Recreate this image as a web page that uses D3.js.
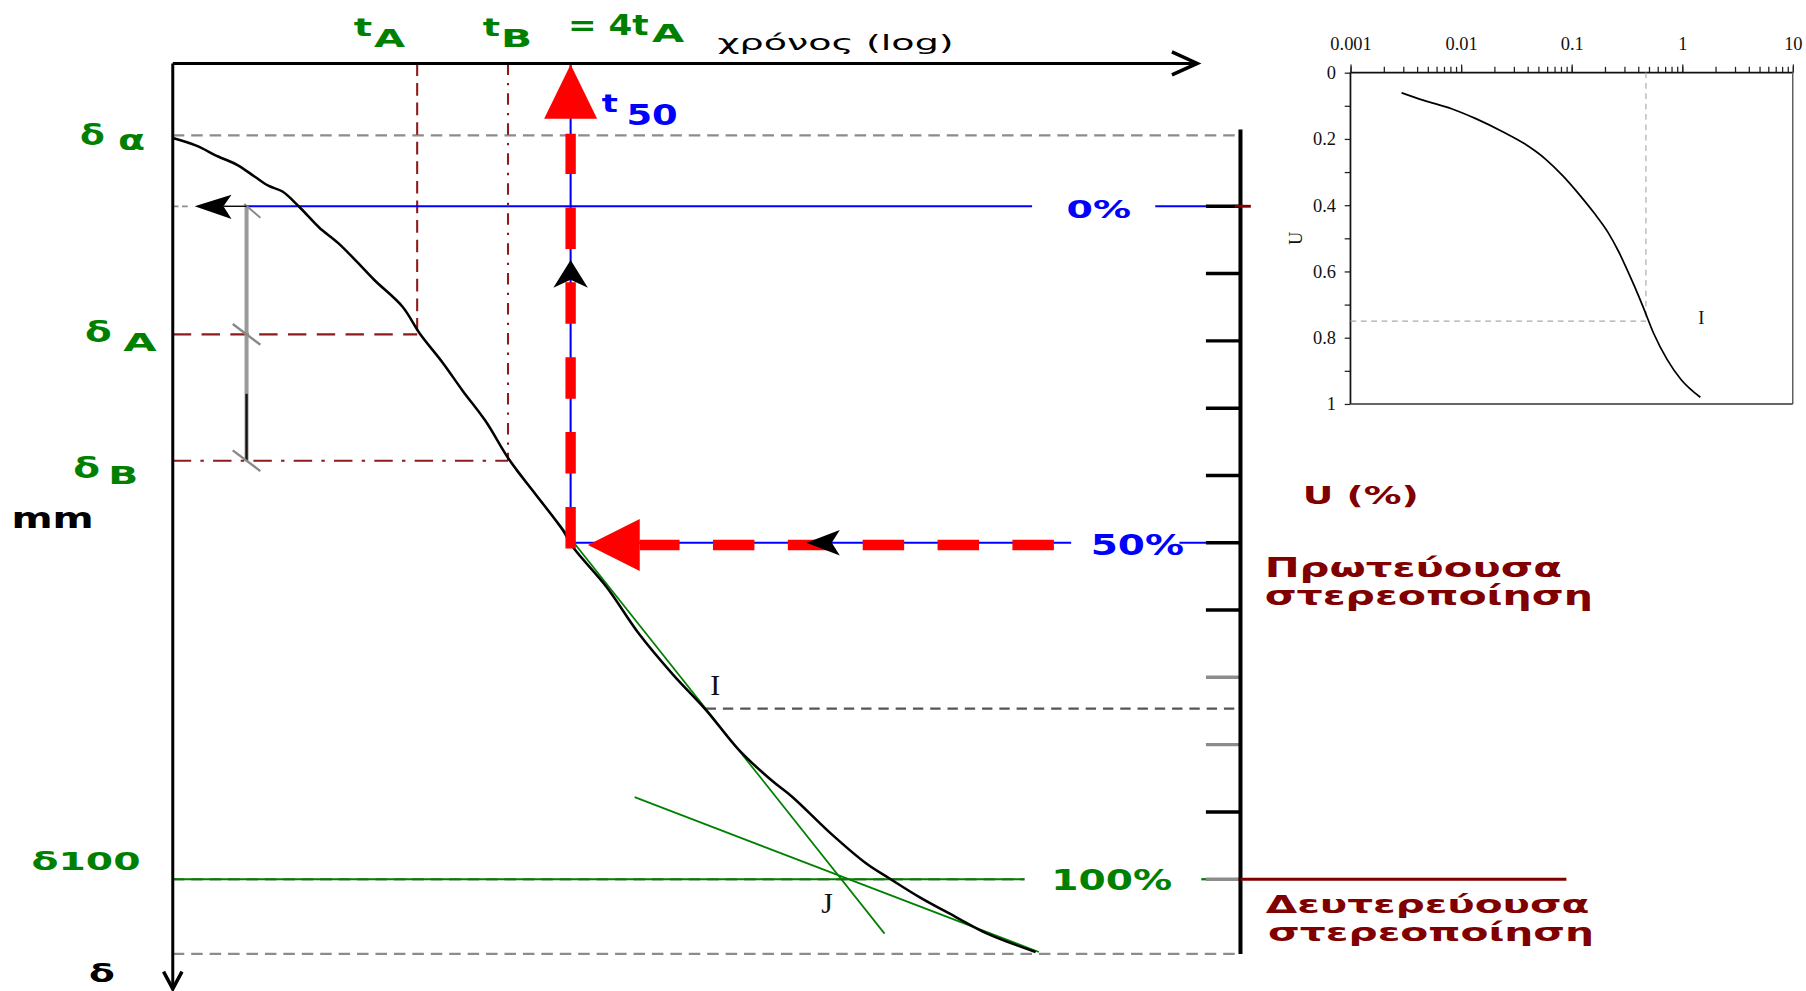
<!DOCTYPE html>
<html lang="el">
<head>
<meta charset="utf-8">
<title>Μέθοδος Casagrande – χρόνος (log)</title>
<script src="https://cdn.jsdelivr.net/npm/d3@7/dist/d3.min.js"></script>
<style>
html, body { margin: 0; padding: 0; background: #fff; overflow: hidden; }
svg { display: block; }
</style>
</head>
<body>
<script>
// ---------- settlement record of one load step (time in min, settlement in mm) ----------
const timeMin = [0.006, 0.0085, 0.012, 0.016, 0.021, 0.026, 0.032, 0.041, 0.056, 0.075,
                 0.098, 0.13, 0.2, 0.26, 0.37, 0.5, 0.71, 1.02, 1.5, 2.3,
                 2.7, 4.5, 7.4, 12.4, 20.4, 34, 56, 77, 137, 237,
                 336, 540, 930, 1500, 3140];
const settlementMm = [0.81, 0.89, 1.01, 1.10, 1.23, 1.33, 1.39, 1.55, 1.78, 1.95,
                      2.14, 2.35, 2.64, 2.93, 3.25, 3.55, 3.88, 4.30, 4.66, 5.06,
                      5.25, 5.68, 6.19, 6.63, 7.01, 7.45, 7.78, 7.96, 8.35, 8.68,
                      8.84, 9.05, 9.26, 9.44, 9.64];

// Casagrande construction: tA, tB = 4 tA, t50
const keyTimes = [0.25, 1, 2.6];
// δα, δA, δB, δ0, δ50, δ100, final settlement
const keySettlements = [0.78, 2.94, 4.31, 1.55, 5.2, 8.85, 9.66];
// inflection point I (time, settlement)
const pointI = [20.4, 7.0];
// tangents through I and along the secondary branch (time pairs, settlement pairs)
const steepTangentT = [1.13, 313];
const steepTangentD = [4.41, 9.44];
const flatTangentT = [6.91, 3300];
const flatTangentD = [7.96, 9.64];
// degree of consolidation scale on the right
const uPercentTicks = [0, 10, 20, 30, 40, 50, 60, 70, 80, 90, 100];
const uGreyTicks = [70, 80, 100];
// positions (in time) of the construction helpers: δA–δB carry-up line, arrow on the 50 % line
const helperTimes = [0.0185, 95];

// ---------- inset: theoretical U – Tv curve ----------
const tvValues = [0.0029, 0.0046, 0.0082, 0.0136, 0.0243, 0.0376, 0.058, 0.083, 0.12, 0.16,
                  0.214, 0.266, 0.307, 0.369, 0.443, 0.55, 0.734, 0.98, 1.46];
const uValues  = [0.061, 0.084, 0.109, 0.139, 0.180, 0.215, 0.261, 0.311, 0.372, 0.424,
                  0.483, 0.540, 0.584, 0.644, 0.707, 0.786, 0.867, 0.927, 0.980];
const tvTickValues = [0.001, 0.01, 0.1, 1, 10];
const tvTickLabels = ["0.001", "0.01", "0.1", "1", "10"];
const uTickValues = [0, 0.2, 0.4, 0.6, 0.8, 1];
const uTickLabels = ["0", "0.2", "0.4", "0.6", "0.8", "1"];
const uMinorTicks = [0.1, 0.3, 0.5, 0.7, 0.9];
const insetGuide = [0.47, 0.75];   // Tv, U at I

// ---------- colours ----------
const GREEN = "#008000", BLUE = "#0000ff", DARKRED = "#800000", RED = "#ff0000";
const GREY = "#8c8c8c", CONSTR = "#8e1b1b";

const [tA, tB, t50] = keyTimes;
const [dAlpha, dA, dB, d0, d50, d100, dEnd] = keySettlements;

const svg = d3.select("body").append("svg")
  .attr("width", 1806).attr("height", 991)
  .attr("viewBox", "0 0 1568 860")
  .attr("preserveAspectRatio", "none");

// main scales: logarithmic time across, settlement downwards
const x = d3.scaleLog().domain([0.006, 37000]).range([150, 1039.5]);
const y = d3.scaleLinear().domain([0, 10.04]).range([55, 858.2]);
const u = d3.scaleLinear().domain([0, 100]).range([y(d0), y(d100)]);

const xL = x.range()[0];
const xR = 1077;                 // position of the U (%) scale
const g = svg.append("g");

function seg(x1, y1, x2, y2, stroke, width, dash) {
  const l = g.append("line")
    .attr("x1", x1).attr("y1", y1).attr("x2", x2).attr("y2", y2)
    .attr("stroke", stroke).attr("stroke-width", width);
  if (dash) l.attr("stroke-dasharray", dash);
  return l;
}
function poly(points, fill) {
  return g.append("path").attr("d", "M" + points.map(p => p.join(",")).join("L") + "Z")
    .attr("fill", fill).attr("stroke", "none");
}
function label(px, py, s, size, color, len, opts = {}) {
  const t = svg.append("text").attr("x", px).attr("y", py).text(s)
    .attr("font-family", opts.family || "'DejaVu Sans', Verdana, sans-serif")
    .attr("font-weight", opts.weight || "bold")
    .attr("font-size", size).attr("fill", color);
  if (len) t.attr("textLength", len).attr("lengthAdjust", "spacingAndGlyphs");
  if (opts.anchor) t.attr("text-anchor", opts.anchor);
  return t;
}
// two-line label kept in one text element
function label2(px, py, lines, size, color, lens, gap, dx2) {
  const t = svg.append("text")
    .attr("font-family", "'DejaVu Sans', Verdana, sans-serif")
    .attr("font-weight", "bold").attr("font-size", size).attr("fill", color);
  lines.forEach((s, i) => {
    t.append("tspan").attr("x", px + (i ? dx2 : 0)).attr("y", py + i * gap).text(s)
      .attr("textLength", lens[i]).attr("lengthAdjust", "spacingAndGlyphs");
  });
  return t;
}

// ---------- grey dashed reference levels ----------
seg(xL, y(dAlpha), xR, y(dAlpha), GREY, 2, "10,6");
seg(xL, y(dEnd), xR, y(dEnd), GREY, 2, "10,6");
seg(xL, y(d100), x(2650), y(d100), GREY, 2, "10,6");
seg(x(pointI[0]), y(pointI[1]), xR, y(pointI[1]), "#555", 2, "9,6");

// ---------- tA / tB construction ----------
seg(x(tA), y(0), x(tA), y(dA), CONSTR, 1.8, "11,6");
seg(xL, y(dA), x(tA), y(dA), CONSTR, 1.8, "16,9");
seg(x(tB), y(0), x(tB), y(dB), CONSTR, 1.8, "10,7,2,7");
seg(xL, y(dB), x(tB), y(dB), CONSTR, 1.8, "16,8,3,8");

// ---------- 0 % and 50 % levels, t50 ----------
const xHelp = x(helperTimes[0]);
seg(xHelp, y(d0), x(2974), y(d0), BLUE, 1.8);
seg(xR - 74, u(0), xR - 15, u(0), BLUE, 1.8);
seg(x(t50), y(0), x(t50), y(d50), BLUE, 1.8);
seg(x(t50), y(d50), xR - 147, y(d50), BLUE, 1.8);
seg(xR - 53, u(50), xR - 14, u(50), BLUE, 1.8);

// ---------- 100 % level and tangents ----------
seg(xL, y(d100), x(2650), y(d100), GREEN, 1.6);
seg(xR - 34, u(100), xR - 12, u(100), GREEN, 2);
seg(x(steepTangentT[0]), y(steepTangentD[0]), x(steepTangentT[1]), y(steepTangentD[1]), GREEN, 1.5);
seg(x(flatTangentT[0]), y(flatTangentD[0]), x(flatTangentT[1]), y(flatTangentD[1]), GREEN, 1.5);

// ---------- settlement curve ----------
const curve = d3.line()
  .x(d => x(d[0])).y(d => y(d[1]))
  .curve(d3.curveCatmullRom.alpha(0.5));
g.append("path")
  .datum(timeMin.map((t, i) => [t, settlementMm[i]]))
  .attr("d", curve)
  .attr("fill", "none").attr("stroke", "#000").attr("stroke-width", 2.2)
  .attr("stroke-linejoin", "round");

// ---------- carry-up of (δB − δA) above δA gives δ0 ----------
seg(xHelp, y(d0), xHelp, y(dB), "#9a9a9a", 3.5);
seg(xHelp, y(dB) - 58, xHelp, y(dB), "#111", 2);
[dA, dB].forEach(d => seg(xHelp - 12, y(d) - 9, xHelp + 12, y(d) + 9, "#888", 2));
seg(xHelp - 2, y(d0) - 2, xHelp + 12, y(d0) + 10, "#888", 1.6);
// arrow towards the δ axis at δ0
poly([[xL + 19, y(d0)], [xL + 51, y(d0) - 10], [xL + 44, y(d0)], [xL + 51, y(d0) + 11]], "#000");
seg(xL + 44, y(d0), xHelp, y(d0), "#000", 1.2);
seg(xL, y(d0), xL + 16, y(d0), GREY, 1.5, "5,3");

// ---------- red reading arrows (50 % → t50) ----------
const xt50 = x(t50), y50 = y(d50);
g.append("line")
  .attr("x1", xR - 162).attr("y1", y50 + 2).attr("x2", xt50 + 60).attr("y2", y50 + 2)
  .attr("stroke", RED).attr("stroke-width", 9).attr("stroke-dasharray", "36,29");
poly([[xt50 + 15, y50 + 2], [xt50 + 60, y50 - 20.5], [xt50 + 60, y50 + 24.5]], RED);
g.append("line")
  .attr("x1", xt50).attr("y1", y50 + 5).attr("x2", xt50).attr("y2", y(0) + 61)
  .attr("stroke", RED).attr("stroke-width", 9).attr("stroke-dasharray", "36,29");
poly([[xt50, y(0) + 1], [xt50 - 23, y(0) + 48], [xt50 + 23, y(0) + 48]], RED);

// small black direction arrows
const yUp = u(8);
poly([[xt50, yUp], [xt50 - 15, yUp + 24], [xt50, yUp + 17], [xt50 + 15, yUp + 24]], "#000");
const xLeft = x(helperTimes[1]);
poly([[xLeft, y50], [xLeft + 29, y50 - 11], [xLeft + 22, y50], [xLeft + 29, y50 + 11]], "#000");

// ---------- main axes ----------
seg(xL, y(0), x.range()[1], y(0), "#000", 2.6);
g.append("path")
  .attr("d", `M${x.range()[1] - 22},${y(0) - 10}L${x.range()[1]},${y(0)}L${x.range()[1] - 22},${y(0) + 10}`)
  .attr("fill", "none").attr("stroke", "#000").attr("stroke-width", 3);
seg(xL, y(0), xL, y.range()[1], "#000", 2.6);
g.append("path")
  .attr("d", `M${xL - 8},${y.range()[1] - 15}L${xL},${y.range()[1]}L${xL + 8},${y.range()[1] - 15}`)
  .attr("fill", "none").attr("stroke", "#000").attr("stroke-width", 3);

// ---------- U (%) scale ----------
uPercentTicks.forEach(v => {
  seg(xR - 30, u(v), xR, u(v), uGreyTicks.includes(v) ? GREY : "#000", 3);
});
seg(xR, y(dAlpha) - 5, xR, y(dEnd), "#000", 3.5);
seg(xR - 5, u(0), xR + 9, u(0), DARKRED, 2.5);
seg(xR, u(100), xR + 283, u(100), DARKRED, 2.5);

// ---------- labels ----------
label(x(tA) - 55, 31, "t", 22, GREEN, 16);
label(x(tA) - 37.5, 40.5, "A", 22, GREEN, 27);
label(x(tB) - 22, 31, "t", 22, GREEN, 15);
label(x(tB) - 6, 41, "B", 22, GREEN, 27);
label(x(tB) + 52, 30.5, "= 4t", 24, GREEN, 70);
label(x(tB) + 125, 36.5, "A", 22, GREEN, 28);
label(623, 43.5, "χρόνος (log)", 18, "#000", 205, { weight: "normal" });
label(xt50 + 27, 97, "t", 21, BLUE, 14);
label(xt50 + 48.5, 108.5, "50", 24, BLUE, 44.5);

label(69.5, y(dAlpha) + 8.6, "δ", 24, GREEN, 21.5);
label(102.5, y(dAlpha) + 12.6, "α", 24, GREEN, 23.5);
label(73.8, y(dA) + 6.5, "δ", 24, GREEN, 23.2);
label(107, y(dA) + 14.8, "A", 22, GREEN, 29);
label(63.6, y(dB) + 15.2, "δ", 24, GREEN, 23.2);
label(94, y(dB) + 19.8, "B", 22, GREEN, 26);
label(10, 458.6, "mm", 24, "#000", 71.4);
label(27.4, y(d100) - 7.7, "δ100", 22, GREEN, 94.6);
label(77.3, 852, "δ", 22, "#000", 22.4);

label(xR - 151, u(0) + 10.6, "0%", 22, BLUE, 56);
label(xR - 130, u(50) + 11, "50%", 24, BLUE, 81);
label(xR - 164.3, u(100) + 9.7, "100%", 24, GREEN, 105);
label(xR + 54, 437, "U (%)", 22, DARKRED, 100.7);
label2(xR + 21, 500.5, ["Πρωτεύουσα", "στερεοποίηση"], 23, DARKRED, [258, 285], 24.5, 0);
label2(xR + 22, 792.5, ["Δευτερεύουσα", "στερεοποίηση"], 22, DARKRED, [281, 283], 24, 2);

label(x(pointI[0]) + 4, y(pointI[1]) - 11.5, "I", 26, "#111", null,
      { family: "'Liberation Serif', 'Times New Roman', serif", weight: "normal" });
label(713, y(d100) + 29, "J", 26, "#111", null,
      { family: "'Liberation Serif', 'Times New Roman', serif", weight: "normal" });

// ---------- inset chart ----------
const xi = d3.scaleLog().domain([0.001, 10]).range([1172.5, 1556.5]);
const yi = d3.scaleLinear().domain([0, 1]).range([63, 350.5]);
const SERIF = "'Liberation Serif', 'Times New Roman', serif";
const inset = svg.append("g");

function styleAxis(sel) {
  sel.attr("font-family", SERIF).attr("font-size", 16);
  sel.select(".domain").remove();
  sel.selectAll("line").attr("stroke", "#222").attr("stroke-width", 1.1);
  sel.selectAll("text").attr("fill", "#111");
}
inset.append("g").attr("transform", `translate(0,${yi(0)})`)
  .call(d3.axisTop(xi).tickValues(xi.ticks()).tickSize(5).tickFormat(""))
  .call(styleAxis);
inset.append("g").attr("transform", `translate(0,${yi(0)})`)
  .call(d3.axisTop(xi).tickValues(tvTickValues).tickSize(7).tickPadding(12.5)
        .tickFormat((d, i) => tvTickLabels[i]))
  .call(styleAxis);
inset.append("g").attr("transform", `translate(${xi.range()[0]},0)`)
  .call(d3.axisLeft(yi).tickValues(uMinorTicks).tickSize(5).tickFormat(""))
  .call(styleAxis);
inset.append("g").attr("transform", `translate(${xi.range()[0]},0)`)
  .call(d3.axisLeft(yi).tickValues(uTickValues).tickSize(5).tickPadding(7.5)
        .tickFormat((d, i) => uTickLabels[i]))
  .call(styleAxis);

// frame
const [ix0, ix1] = xi.range(), [iy0, iy1] = yi.range();
inset.append("line").attr("x1", ix0).attr("y1", iy0).attr("x2", ix1).attr("y2", iy0)
  .attr("stroke", "#111").attr("stroke-width", 1.5);
inset.append("line").attr("x1", ix0).attr("y1", iy0).attr("x2", ix0).attr("y2", iy1)
  .attr("stroke", "#111").attr("stroke-width", 1.5);
inset.append("line").attr("x1", ix1).attr("y1", iy0).attr("x2", ix1).attr("y2", iy1)
  .attr("stroke", "#555").attr("stroke-width", 1.2);
inset.append("line").attr("x1", ix0).attr("y1", iy1).attr("x2", ix1).attr("y2", iy1)
  .attr("stroke", "#333").attr("stroke-width", 1.3);

// guides to I
inset.append("line")
  .attr("x1", xi(insetGuide[0])).attr("y1", iy0).attr("x2", xi(insetGuide[0])).attr("y2", yi(insetGuide[1]))
  .attr("stroke", "#aaa").attr("stroke-width", 1).attr("stroke-dasharray", "5,4");
inset.append("line")
  .attr("x1", ix0).attr("y1", yi(insetGuide[1])).attr("x2", xi(insetGuide[0])).attr("y2", yi(insetGuide[1]))
  .attr("stroke", "#aaa").attr("stroke-width", 1).attr("stroke-dasharray", "5,4");

// U – Tv curve
inset.append("path")
  .datum(tvValues.map((t, i) => [t, uValues[i]]))
  .attr("d", d3.line().x(d => xi(d[0])).y(d => yi(d[1])).curve(d3.curveMonotoneX))
  .attr("fill", "none").attr("stroke", "#000").attr("stroke-width", 1.5);

inset.append("text").attr("x", xi(1.4)).attr("y", yi(0.76))
  .attr("font-family", SERIF).attr("font-size", 16).attr("fill", "#111").text("I");
inset.append("text")
  .attr("transform", `translate(${ix0 - 42},${(iy0 + iy1) / 2}) rotate(-90)`)
  .attr("text-anchor", "middle")
  .attr("font-family", SERIF).attr("font-size", 16).attr("fill", "#111").text("U");
</script>
</body>
</html>
